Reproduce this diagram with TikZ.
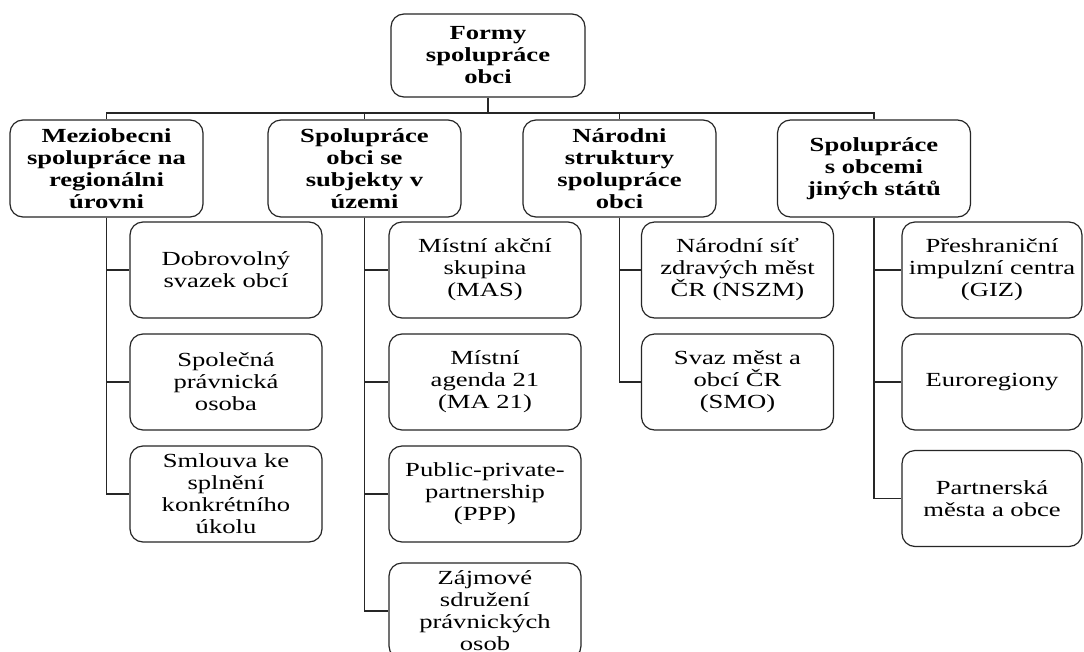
\documentclass[tikz,border=0pt]{standalone}
\usepackage{fontspec}
\setmainfont{Liberation Serif}[FakeStretch=1.33]
\begin{document}
\begin{tikzpicture}[x=1pt,y=-1pt,
    box/.style={draw=black!85,line width=1.2pt,rounded corners=13pt,
      align=center,inner sep=0pt,minimum width=192pt,minimum height=96pt,
      font=\fontsize{20}{22}\selectfont},
    head/.style={box,minimum width=193pt,minimum height=97pt,
      font=\fontsize{20}{22}\selectfont\bfseries},
    item/.style={box}]
      \useasboundingbox[fill=white] (0,0) rectangle (1084,651);
      \path
        (488,55.5) node[head,minimum width=194pt,minimum height=83pt] (root){Formy\\spolupráce\\obci}
        (106.5,168.5) node[head] (m1){Meziobecni\\spolupráce na\\regionálni\\úrovni}
        (364.5,168.5) node[head] (m2){Spolupráce\\obci se\\subjekty v\\územi}
        (619.5,168.5) node[head] (m3){Národni\\struktury\\spolupráce\\obci}
        (874,168.5) node[head] (m4){Spolupráce\\s obcemi\\jiných států}
        (226,270) node[item] (a1){Dobrovolný\\svazek obcí}
        (226,382) node[item] (a2){Společná\\právnická\\osoba}
        (226,494) node[item] (a3){Smlouva ke\\splnění\\konkrétního\\úkolu}
        (485,270) node[item] (b1){Místní akční\\skupina\\(MAS)}
        (485,382) node[item] (b2){Místní\\agenda 21\\(MA 21)}
        (485,494) node[item] (b3){Public-private-\\partnership\\(PPP)}
        (485,611) node[item] (b4){Zájmové\\sdružení\\právnických\\osob}
        (737.5,270) node[item] (c1){Národní síť\\zdravých měst\\ČR (NSZM)}
        (737.5,382) node[item] (c2){Svaz měst a\\obcí ČR\\(SMO)}
        (992,270) node[item,minimum width=180pt] (d1){Přeshraniční\\impulzní centra\\(GIZ)}
        (992,382) node[item,minimum width=180pt] (d2){Euroregiony}
        (992,498.5) node[item,minimum width=180pt] (d3){Partnerská\\města a obce};
      \coordinate (bar) at (488,113);
      \begin{scope}[draw=black!85,line width=1.2pt]
        \draw (root) -- (bar);
        \draw (bar) -| (m1);
        \draw (bar) -| (m2);
        \draw (bar) -| (m3);
        \draw (bar) -| (m4);
        \draw (m1) |- (a1);
        \draw (m1) |- (a2);
        \draw (m1) |- (a3);
        \draw (m2) |- (b1);
        \draw (m2) |- (b2);
        \draw (m2) |- (b3);
        \draw (m2) |- (b4);
        \draw (m3) |- (c1);
        \draw (m3) |- (c2);
        \draw (m4) |- (d1);
        \draw (m4) |- (d2);
        \draw (m4) |- (d3);
      \end{scope}
    \end{tikzpicture}
\end{document}
